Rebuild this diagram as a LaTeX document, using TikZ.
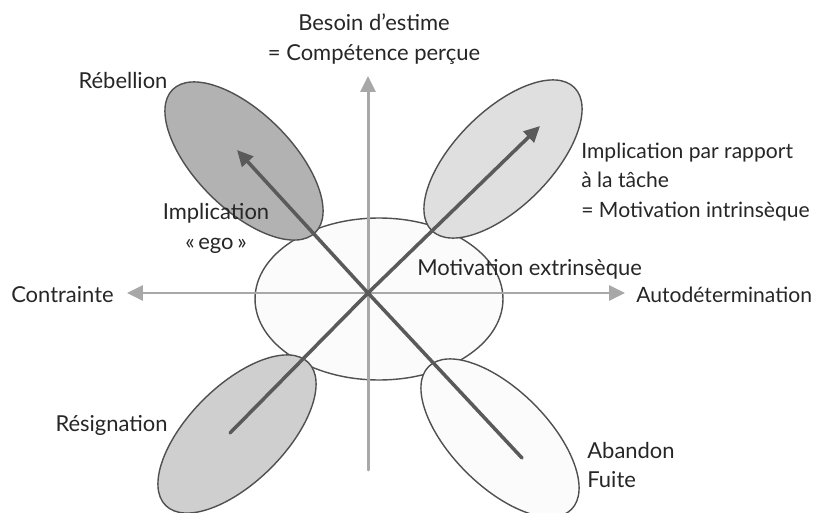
\documentclass[tikz,border=0pt]{standalone}
\usepackage{fontspec}
\setmainfont{Lato}
\usepackage{tikz}
\usetikzlibrary{arrows.meta,shapes.geometric}
\usepackage{xcolor}
\definecolor{rimgray}{HTML}{505050}
\definecolor{axisgray}{HTML}{A8A8A8}
\definecolor{rodgray}{HTML}{5A5A5A}

\begin{document}
\begin{tikzpicture}[x=0.02cm,y=-0.02cm,>={Triangle[length=3.2mm,width=3mm]},font=\fontsize{12.5}{17}\selectfont,line cap=round,
  lobe/.style={ellipse,draw=rimgray,line width=0.8pt,minimum width=4.04cm,minimum height=1.92cm,inner sep=0pt},
  axis/.style={axisgray,line width=1.7pt},
  rod/.style={rodgray,line width=2pt},
  lbl/.style={text=black!85,inner sep=0pt},
  edgelbl/.style={lbl,font=\fontsize{12}{17}\selectfont}]
\useasboundingbox (0,0) rectangle (817,513);
\node[ellipse,draw=rimgray,line width=0.8pt,fill=blue!2!gray!3,minimum width=4.96cm,minimum height=3.24cm,inner sep=0pt] (extr) at (379,299) {};
\node[lobe,fill=gray!60,rotate=-45] (rebel) at (244,161) {};
\node[lobe,fill=gray!25,rotate=45] (tache) at (503,159) {};
\node[lobe,fill=gray!38,rotate=45] (resign) at (237,434) {};
\node[lobe,fill=gray!3,rotate=-45] (fuite) at (500,438) {};
\coordinate (O) at (368,293);
\coordinate (west) at (127,293);
\coordinate (east) at (625,293);
\coordinate (north) at (368,76);
\coordinate (south) at (368,470);
\coordinate (ul) at (237,150);
\coordinate (ur) at (540,126);
\coordinate (ll) at (230,433);
\coordinate (lr) at (522,458);
\draw[axis,<->] (west) -- (east);
\draw[axis,->] (south) -- (north);
\draw[rod,->] (O) -- (ul);
\draw[rod,->] (O) -- (ur);
\draw[rod] (O) -- (ll);
\draw[rod] (O) -- (lr);
\node[lbl,align=center] (estimelbl) at (374,39) {Besoin d’estime\\= Compétence perçue};
\node[lbl] (rebellbl) at (123,80) {Rébellion};
\node[edgelbl,anchor=west,align=left] (tachelbl) at (581,182) {Implication par rapport\\à la tâche\\= Motivation intrinsèque};
\node[edgelbl,anchor=west] (autolbl) at (636,295) {Autodétermination};
\node[lbl,anchor=east] (contrlbl) at (114,295) {Contrainte};
\node[lbl,align=center] (egolbl) at (216,228) {Implication\\«\,ego\,»};
\node[lbl,anchor=west] (extrlbl) at (417,269) {Motivation extrinsèque};
\node[lbl,anchor=east] (resignlbl) at (168,425) {Résignation};
\node[lbl,anchor=west,align=left] (fuitelbl) at (587,465) {Abandon\\Fuite};
\end{tikzpicture}
\end{document}
